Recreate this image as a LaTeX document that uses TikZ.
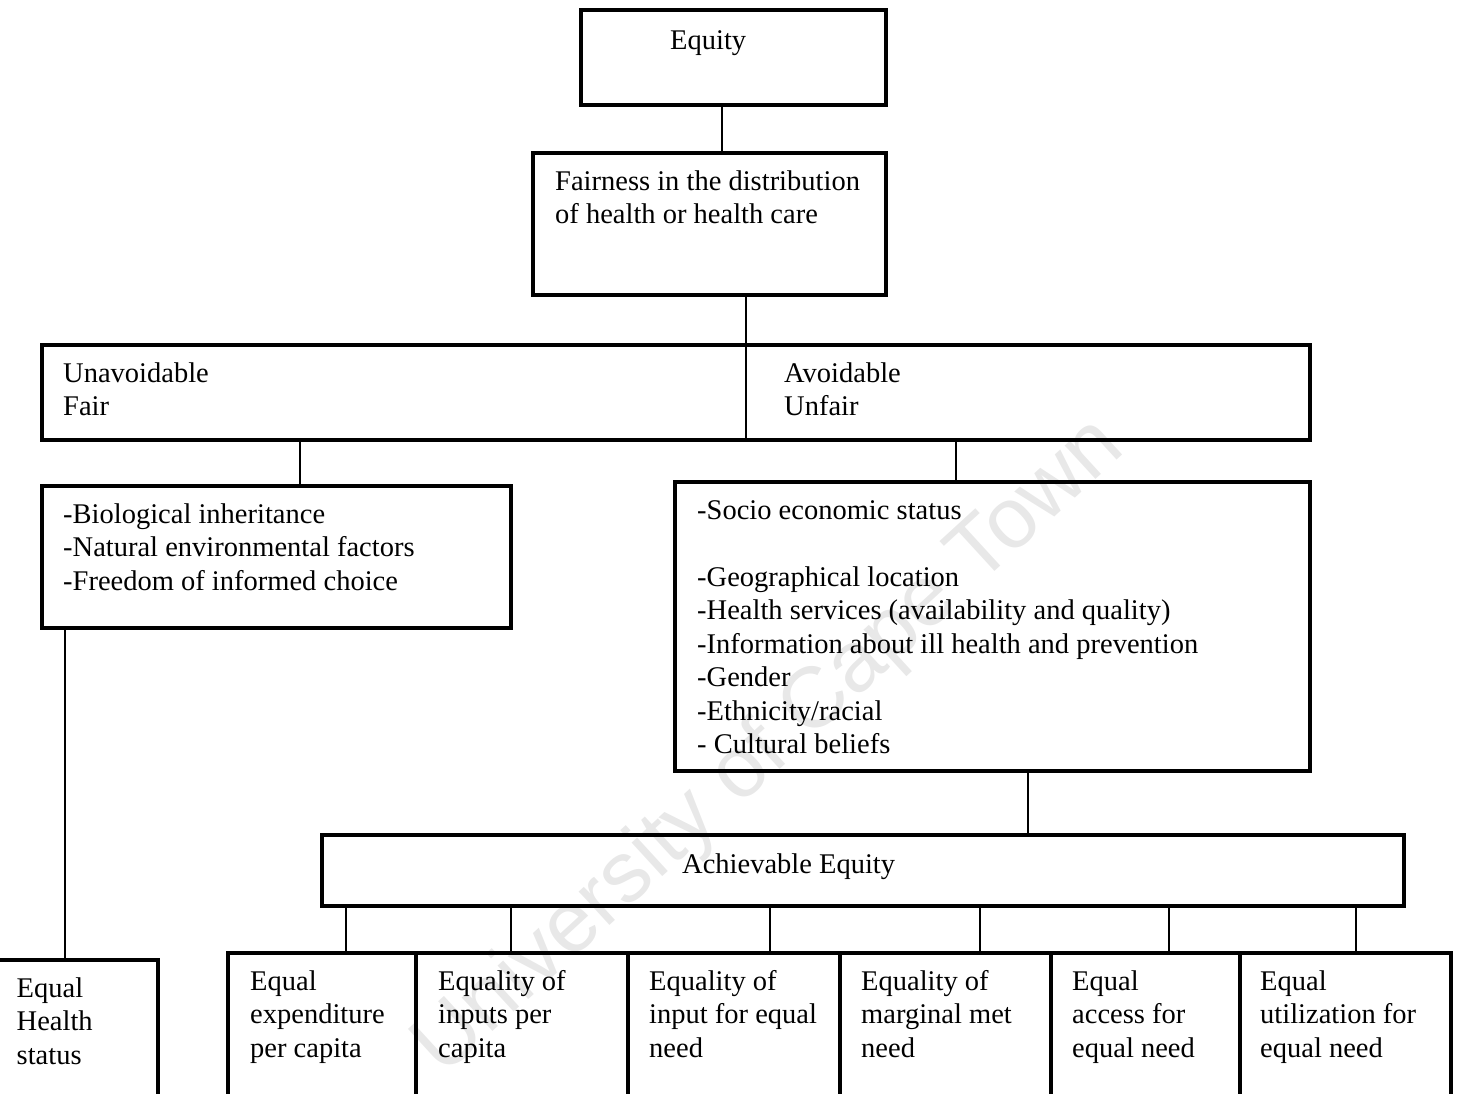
\documentclass[tikz,border=0pt]{standalone}
\usepackage{fontspec}
\setmainfont{Liberation Serif}
\newfontfamily\marksans{Liberation Sans}
\usepackage{tikz}

\begin{document}
\begin{tikzpicture}[x=1pt, y=-1pt,
  box/.style={draw, line width=3.5pt, inner sep=0pt},
  link/.style={line width=2pt},
  lbl/.style={anchor=north west, inner sep=0pt, align=left,
    font=\fontsize{28.5}{33.5}\selectfont}]
\useasboundingbox (0,0) rectangle (1458,1093);

% watermark
\node [rotate=42.5, text=black!9, font=\marksans\fontsize{86}{90}\selectfont] (mark) at (770,748) {University of Cape Town};

% boxes
\node [box, minimum width=305pt, minimum height=95pt] (equity) at (733.5,57.5) {};
\node [box, minimum width=353pt, minimum height=142pt] (fairness) at (709.5,224) {};
\node [box, minimum width=1268pt, minimum height=95pt] (split) at (676,392.5) {};
\node [box, minimum width=469pt, minimum height=142pt] (bio) at (276.5,557) {};
\node [box, minimum width=635pt, minimum height=289pt] (socio) at (992.5,626.5) {};
\node [box, minimum width=1082pt, minimum height=71pt] (achieve) at (863,870.5) {};
\node [box, minimum width=168pt, minimum height=150pt] (health) at (74,1035) {};
\node [box, minimum width=188pt, minimum height=157pt] (eqa) at (322,1031.5) {};
\node [box, minimum width=212pt, minimum height=157pt] (eqb) at (522,1031.5) {};
\node [box, minimum width=212pt, minimum height=157pt] (eqc) at (734,1031.5) {};
\node [box, minimum width=211pt, minimum height=157pt] (eqd) at (945.5,1031.5) {};
\node [box, minimum width=189pt, minimum height=157pt] (eqe) at (1145.5,1031.5) {};
\node [box, minimum width=211pt, minimum height=157pt] (eqf) at (1345.5,1031.5) {};

% connectors
\draw [link] (equity.south) ++(-11.5,0) coordinate (c1) -- (c1 |- fairness.north);
\draw [link] (fairness.south) ++(36.5,0) coordinate (c2) -- (c2 |- split.south);
\draw [link] (bio.north) ++(23.5,0) coordinate (c3) -- (c3 |- split.south);
\draw [link] (socio.north) ++(-36.5,0) coordinate (c4) -- (c4 |- split.south);
\draw [link] (socio.south) ++(35.5,0) coordinate (c5) -- (c5 |- achieve.north);
\draw [link] (health.north) ++(-9,0) coordinate (c6) -- (c6 |- bio.south);
\draw [link] (eqa.north) ++(24,0) coordinate (d1) -- (d1 |- achieve.south);
\draw [link] (eqb.north) ++(-11,0) coordinate (d2) -- (d2 |- achieve.south);
\draw [link] (eqc.north) ++(36,0) coordinate (d3) -- (d3 |- achieve.south);
\draw [link] (eqd.north) ++(34.5,0) coordinate (d4) -- (d4 |- achieve.south);
\draw [link] (eqe.north) ++(23.5,0) coordinate (d5) -- (d5 |- achieve.south);
\draw [link] (eqf.north) ++(10.5,0) coordinate (d6) -- (d6 |- achieve.south);

% texts
\node [lbl] (equitytxt) at (670,25.5) {\strut Equity};
\node [lbl] (fairnesstxt) at (555,166.5) {\strut Fairness in the distribution\\of health or health care};
\node [lbl] (unavoid) at (63,358.5) {\strut Unavoidable\\Fair};
\node [lbl] (avoid) at (784,358.5) {\strut Avoidable\\Unfair};
\node [lbl] (biotxt) at (63,499.5) {\strut -Biological inheritance\\-Natural environmental factors\\-Freedom of informed choice};
\node [lbl] (sociotxt) at (697,495.5) {\strut -Socio economic status\\[33.5pt]-Geographical location\\-Health services (availability and quality)\\-Information about ill health and prevention\\-Gender\\-Ethnicity/racial\\- Cultural beliefs};
\node [lbl] (achievetxt) at (682,849.5) {\strut Achievable Equity};
\node [lbl] (healthtxt) at (16.5,973.5) {\strut Equal\\Health\\status};
\node [lbl] (eqatxt) at (250,966.5) {\strut Equal\\expenditure\\per capita};
\node [lbl] (eqbtxt) at (438,966.5) {\strut Equality of\\inputs per\\capita};
\node [lbl] (eqctxt) at (649,966.5) {\strut Equality of\\input for equal\\need};
\node [lbl] (eqdtxt) at (861,966.5) {\strut Equality of\\marginal met\\need};
\node [lbl] (eqetxt) at (1072,966.5) {\strut Equal\\access for\\equal need};
\node [lbl] (eqftxt) at (1260,966.5) {\strut Equal\\utilization for\\equal need};
\end{tikzpicture}
\end{document}
